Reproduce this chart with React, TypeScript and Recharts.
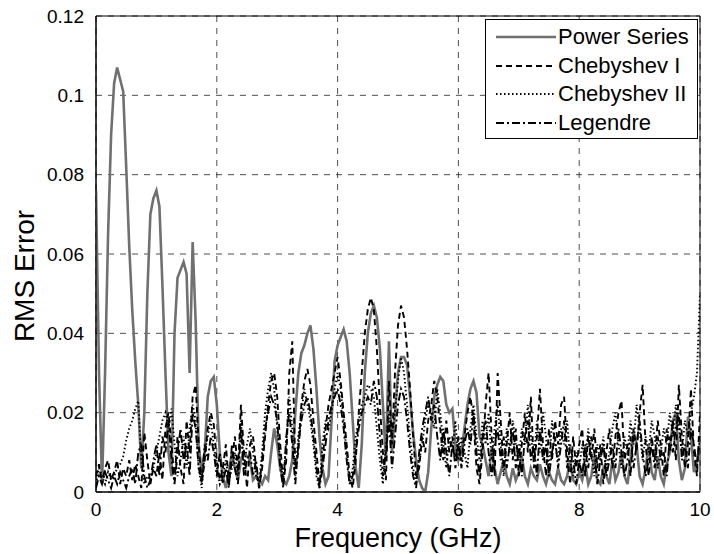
import React from "react";
import {
  LineChart,
  Line,
  XAxis,
  YAxis,
  CartesianGrid,
  ReferenceArea,
  Label,
} from "recharts";

// sample frequencies (GHz)
const FREQ_GHZ = [
  0, 0.05, 0.1, 0.15, 0.2, 0.25, 0.3, 0.35, 0.4, 0.45,
  0.5, 0.55, 0.6, 0.65, 0.7, 0.75, 0.8, 0.85, 0.9, 0.95,
  1, 1.05, 1.1, 1.15, 1.2, 1.25, 1.3, 1.35, 1.4, 1.45,
  1.5, 1.55, 1.6, 1.65, 1.7, 1.75, 1.8, 1.85, 1.9, 1.95,
  2, 2.05, 2.1, 2.15, 2.2, 2.25, 2.3, 2.35, 2.4, 2.45,
  2.5, 2.55, 2.6, 2.65, 2.7, 2.75, 2.8, 2.85, 2.9, 2.95,
  3, 3.05, 3.1, 3.15, 3.2, 3.25, 3.3, 3.35, 3.4, 3.45,
  3.5, 3.55, 3.6, 3.65, 3.7, 3.75, 3.8, 3.85, 3.9, 3.95,
  4, 4.05, 4.1, 4.15, 4.2, 4.25, 4.3, 4.35, 4.4, 4.45,
  4.5, 4.55, 4.6, 4.65, 4.7, 4.75, 4.8, 4.85, 4.9, 4.95,
  5, 5.05, 5.1, 5.15, 5.2, 5.25, 5.3, 5.35, 5.4, 5.45,
  5.5, 5.55, 5.6, 5.65, 5.7, 5.75, 5.8, 5.85, 5.9, 5.95,
  6, 6.05, 6.1, 6.15, 6.2, 6.25, 6.3, 6.35, 6.4, 6.45,
  6.5, 6.55, 6.6, 6.65, 6.7, 6.75, 6.8, 6.85, 6.9, 6.95,
  7, 7.05, 7.1, 7.15, 7.2, 7.25, 7.3, 7.35, 7.4, 7.45,
  7.5, 7.55, 7.6, 7.65, 7.7, 7.75, 7.8, 7.85, 7.9, 7.95,
  8, 8.05, 8.1, 8.15, 8.2, 8.25, 8.3, 8.35, 8.4, 8.45,
  8.5, 8.55, 8.6, 8.65, 8.7, 8.75, 8.8, 8.85, 8.9, 8.95,
  9, 9.05, 9.1, 9.15, 9.2, 9.25, 9.3, 9.35, 9.4, 9.45,
  9.5, 9.55, 9.6, 9.65, 9.7, 9.75, 9.8, 9.85, 9.9, 9.95,
  10,
];

const POWER_SERIES = [
  0.076, 0.030, 0.002, 0.030, 0.065, 0.090, 0.103, 0.107, 0.104, 0.101,
  0.082, 0.062, 0.046, 0.033, 0.022, 0.006, 0.020, 0.050, 0.070, 0.074,
  0.076, 0.072, 0.052, 0.030, 0.010, 0.004, 0.040, 0.054, 0.056, 0.058,
  0.055, 0.030, 0.063, 0.043, 0.012, 0.005, 0.010, 0.024, 0.028, 0.029,
  0.022, 0.010, 0.004, 0.001, 0.005, 0.010, 0.006, 0.003, 0.008, 0.010,
  0.009, 0.008, 0.003, 0.004, 0.003, 0.002, 0.004, 0.003, 0.010, 0.016,
  0.012, 0.006, 0.003, 0.002, 0.004, 0.008, 0.020, 0.030, 0.035, 0.037,
  0.040, 0.042, 0.036, 0.026, 0.014, 0.006, 0.002, 0.004, 0.018, 0.033,
  0.037, 0.039, 0.041, 0.038, 0.030, 0.018, 0.006, 0.001, 0.012, 0.030,
  0.040, 0.045, 0.047, 0.044, 0.036, 0.022, 0.008, 0.038, 0.010, 0.020,
  0.030, 0.034, 0.034, 0.032, 0.024, 0.015, 0.008, 0.003, 0.001, 0.000,
  0.005, 0.016, 0.024, 0.027, 0.029, 0.028, 0.022, 0.020, 0.021, 0.012,
  0.008, 0.010, 0.016, 0.022, 0.026, 0.028, 0.025, 0.014, 0.012, 0.008,
  0.004, 0.011, 0.006, 0.002, 0.005, 0.008, 0.004, 0.002, 0.006, 0.003,
  0.005, 0.009, 0.004, 0.002, 0.006, 0.004, 0.003, 0.007, 0.004, 0.002,
  0.005, 0.003, 0.002, 0.006, 0.003, 0.002, 0.004, 0.008, 0.003, 0.002,
  0.005, 0.003, 0.007, 0.002, 0.004, 0.009, 0.003, 0.002, 0.006, 0.004,
  0.002, 0.008, 0.003, 0.005, 0.010, 0.004, 0.002, 0.008, 0.015, 0.012,
  0.004, 0.002, 0.006, 0.012, 0.005, 0.003, 0.009, 0.004, 0.002, 0.007,
  0.010, 0.018, 0.020, 0.008, 0.003, 0.006, 0.019, 0.014, 0.005, 0.008,
  0.012,
];

const CHEBYSHEV_I = [
  0.004, 0.007, 0.002, 0.006, 0.008, 0.003, 0.005, 0.008, 0.002, 0.006,
  0.004, 0.008, 0.003, 0.007, 0.004, 0.001, 0.015, 0.008, 0.002, 0.006,
  0.004, 0.010, 0.003, 0.016, 0.020, 0.012, 0.003, 0.014, 0.006, 0.002,
  0.018, 0.010, 0.024, 0.027, 0.012, 0.002, 0.008, 0.016, 0.020, 0.017,
  0.008, 0.003, 0.006, 0.012, 0.002, 0.008, 0.014, 0.005, 0.022, 0.010,
  0.001, 0.012, 0.014, 0.006, 0.001, 0.006, 0.014, 0.022, 0.028, 0.030,
  0.024, 0.012, 0.002, 0.008, 0.030, 0.038, 0.006, 0.010, 0.022, 0.028,
  0.031, 0.027, 0.018, 0.010, 0.002, 0.008, 0.016, 0.022, 0.026, 0.030,
  0.034, 0.028, 0.020, 0.012, 0.004, 0.001, 0.008, 0.020, 0.030, 0.040,
  0.046, 0.049, 0.046, 0.036, 0.022, 0.010, 0.003, 0.028, 0.012, 0.030,
  0.042, 0.047, 0.044, 0.036, 0.026, 0.014, 0.004, 0.006, 0.014, 0.010,
  0.018, 0.022, 0.028, 0.024, 0.016, 0.008, 0.018, 0.010, 0.014, 0.006,
  0.012, 0.008, 0.014, 0.020, 0.024, 0.018, 0.006, 0.002, 0.010, 0.022,
  0.030, 0.014, 0.004, 0.030, 0.018, 0.006, 0.012, 0.020, 0.008, 0.016,
  0.004, 0.012, 0.020, 0.010, 0.024, 0.006, 0.014, 0.026, 0.012, 0.004,
  0.016, 0.008, 0.018, 0.012, 0.022, 0.024, 0.010, 0.002, 0.014, 0.006,
  0.012, 0.016, 0.004, 0.014, 0.008, 0.016, 0.006, 0.012, 0.002, 0.010,
  0.016, 0.006, 0.014, 0.020, 0.023, 0.008, 0.012, 0.004, 0.016, 0.010,
  0.020, 0.027, 0.012, 0.004, 0.014, 0.008, 0.018, 0.012, 0.004, 0.016,
  0.010, 0.018, 0.008, 0.027, 0.014, 0.006, 0.012, 0.026, 0.010, 0.004,
  0.020,
];

const CHEBYSHEV_II = [
  0.002, 0.006, 0.004, 0.002, 0.005, 0.003, 0.004, 0.006, 0.007, 0.009,
  0.013, 0.016, 0.018, 0.021, 0.023, 0.008, 0.002, 0.004, 0.003, 0.006,
  0.010, 0.014, 0.018, 0.020, 0.016, 0.021, 0.012, 0.004, 0.008, 0.014,
  0.006, 0.016, 0.022, 0.018, 0.006, 0.001, 0.010, 0.014, 0.018, 0.012,
  0.006, 0.002, 0.004, 0.008, 0.003, 0.006, 0.010, 0.004, 0.018, 0.006,
  0.012, 0.016, 0.010, 0.004, 0.002, 0.010, 0.020, 0.026, 0.030, 0.026,
  0.016, 0.008, 0.003, 0.012, 0.024, 0.016, 0.004, 0.014, 0.020, 0.026,
  0.022, 0.018, 0.012, 0.004, 0.001, 0.012, 0.018, 0.016, 0.020, 0.026,
  0.030, 0.026, 0.018, 0.010, 0.002, 0.006, 0.014, 0.018, 0.022, 0.024,
  0.027, 0.026, 0.024, 0.016, 0.008, 0.002, 0.012, 0.020, 0.014, 0.020,
  0.028, 0.034, 0.030, 0.022, 0.014, 0.006, 0.002, 0.008, 0.012, 0.018,
  0.022, 0.020, 0.016, 0.026, 0.020, 0.012, 0.006, 0.014, 0.010, 0.018,
  0.008, 0.014, 0.010, 0.006, 0.016, 0.022, 0.014, 0.008, 0.018, 0.012,
  0.020, 0.008, 0.016, 0.022, 0.012, 0.004, 0.016, 0.010, 0.018, 0.012,
  0.008, 0.016, 0.012, 0.022, 0.014, 0.008, 0.018, 0.010, 0.020, 0.014,
  0.006, 0.018, 0.012, 0.008, 0.016, 0.012, 0.018, 0.008, 0.004, 0.010,
  0.006, 0.012, 0.008, 0.016, 0.010, 0.004, 0.012, 0.008, 0.014, 0.006,
  0.010, 0.016, 0.020, 0.012, 0.006, 0.014, 0.010, 0.018, 0.012, 0.022,
  0.016, 0.008, 0.014, 0.010, 0.018, 0.014, 0.006, 0.010, 0.016, 0.012,
  0.020, 0.014, 0.022, 0.016, 0.010, 0.018, 0.014, 0.020, 0.024, 0.030,
  0.050,
];

const LEGENDRE = [
  0.001, 0.004, 0.002, 0.005, 0.003, 0.001, 0.004, 0.002, 0.005, 0.003,
  0.001, 0.004, 0.006, 0.002, 0.010, 0.012, 0.004, 0.001, 0.003, 0.008,
  0.012, 0.004, 0.014, 0.010, 0.018, 0.008, 0.002, 0.010, 0.016, 0.008,
  0.012, 0.004, 0.020, 0.016, 0.006, 0.003, 0.012, 0.008, 0.014, 0.010,
  0.004, 0.010, 0.002, 0.006, 0.001, 0.012, 0.006, 0.002, 0.016, 0.004,
  0.008, 0.010, 0.004, 0.008, 0.001, 0.008, 0.016, 0.020, 0.024, 0.022,
  0.018, 0.006, 0.001, 0.014, 0.020, 0.012, 0.002, 0.012, 0.018, 0.022,
  0.024, 0.020, 0.014, 0.006, 0.001, 0.006, 0.012, 0.018, 0.022, 0.024,
  0.026, 0.022, 0.016, 0.008, 0.002, 0.004, 0.010, 0.016, 0.020, 0.022,
  0.024, 0.022, 0.028, 0.024, 0.014, 0.004, 0.010, 0.018, 0.006, 0.014,
  0.022, 0.026, 0.024, 0.018, 0.010, 0.004, 0.001, 0.010, 0.016, 0.020,
  0.024, 0.018, 0.022, 0.014, 0.008, 0.016, 0.010, 0.004, 0.012, 0.008,
  0.014, 0.006, 0.012, 0.016, 0.012, 0.020, 0.010, 0.004, 0.014, 0.018,
  0.010, 0.004, 0.012, 0.016, 0.008, 0.014, 0.006, 0.012, 0.016, 0.006,
  0.012, 0.004, 0.014, 0.018, 0.008, 0.012, 0.004, 0.016, 0.008, 0.012,
  0.004, 0.010, 0.014, 0.006, 0.012, 0.018, 0.006, 0.012, 0.008, 0.002,
  0.008, 0.004, 0.012, 0.006, 0.014, 0.010, 0.002, 0.008, 0.012, 0.004,
  0.008, 0.012, 0.006, 0.016, 0.010, 0.004, 0.008, 0.014, 0.006, 0.012,
  0.018, 0.010, 0.004, 0.008, 0.012, 0.006, 0.014, 0.008, 0.010, 0.004,
  0.014, 0.010, 0.016, 0.020, 0.008, 0.012, 0.006, 0.016, 0.012, 0.006,
  0.014,
];

const X_TICKS = [0, 2, 4, 6, 8, 10];
const Y_TICKS = [0, 0.02, 0.04, 0.06, 0.08, 0.1, 0.12];

const SERIES = [
  { key: "power", name: "Power Series", color: "#707070", width: 2.6, dash: undefined },
  { key: "cheb1", name: "Chebyshev I", color: "#000", width: 1.9, dash: "6 4" },
  { key: "cheb2", name: "Chebyshev II", color: "#000", width: 1.9, dash: "1.5 2.5" },
  { key: "legendre", name: "Legendre", color: "#000", width: 1.9, dash: "8 3 2 3" },
];

const FONT = '"Liberation Sans", Arial, sans-serif';

const data = FREQ_GHZ.map((f, i) => ({
  f,
  power: POWER_SERIES[i],
  cheb1: CHEBYSHEV_I[i],
  cheb2: CHEBYSHEV_II[i],
  legendre: LEGENDRE[i],
}));

function LegendBox() {
  return (
    <div
      style={{
        position: "absolute",
        left: 485,
        top: 19,
        width: 213,
        height: 120,
        border: "1px solid #000",
        background: "#fff",
        fontFamily: FONT,
        fontSize: 22,
        paddingTop: 3,
        boxSizing: "border-box",
      }}
    >
      {SERIES.map((s) => (
        <div key={s.key} style={{ display: "flex", alignItems: "center", height: 28.5, lineHeight: "28px" }}>
          <svg width={72} height={28} style={{ flex: "none" }}>
            <line
              x1={10}
              x2={70}
              y1={14}
              y2={14}
              stroke={s.color}
              strokeWidth={s.width}
              strokeDasharray={s.dash}
            />
          </svg>
          <span style={{ whiteSpace: "nowrap" }}>{s.name}</span>
        </div>
      ))}
    </div>
  );
}

export default function App() {
  return (
    <div style={{ position: "absolute", left: 0, top: 0, width: 714, height: 554, background: "#fff" }}>
      <LineChart
        width={714}
        height={554}
        data={data}
        margin={{ top: 16, right: 14, left: 0, bottom: 0 }}
        style={{ fontFamily: FONT }}
      >
        <CartesianGrid stroke="#222" strokeDasharray="6 6" strokeWidth={0.8} />
        <XAxis
          dataKey="f"
          type="number"
          domain={[0, 10]}
          ticks={X_TICKS}
          allowDataOverflow
          height={62}
          tickLine={false}
          axisLine={{ stroke: "#000" }}
          tickMargin={5}
          tick={{ fontSize: 19, fill: "#000" }}
        >
          <Label
            content={({ viewBox }: any) => (
              <text
                x={viewBox.x + viewBox.width / 2}
                y={547}
                textAnchor="middle"
                fontSize={27}
                fill="#000"
                fontFamily={FONT}
              >
                Frequency (GHz)
              </text>
            )}
          />
        </XAxis>
        <YAxis
          type="number"
          domain={[0, 0.12]}
          ticks={Y_TICKS}
          allowDataOverflow
          width={96}
          tickLine={false}
          axisLine={{ stroke: "#000" }}
          tickMargin={6}
          tick={{ fontSize: 19, fill: "#000" }}
          tickFormatter={(v: number) => String(Number(v.toFixed(2)))}
        >
          <Label
            content={() => (
              <text
                x={34}
                y={276}
                transform="rotate(-90 34 276)"
                textAnchor="middle"
                fontSize={28}
                fill="#000"
                fontFamily={FONT}
              >
                RMS Error
              </text>
            )}
          />
        </YAxis>
        {SERIES.map((s) => (
          <Line
            key={s.key}
            type="linear"
            dataKey={s.key}
            name={s.name}
            stroke={s.color}
            strokeWidth={s.width}
            strokeDasharray={s.dash}
            dot={false}
            isAnimationActive={false}
          />
        ))}
        <ReferenceArea x1={0} x2={10} y1={0} y2={0.12} fill="none" stroke="#000" strokeWidth={1} />
      </LineChart>
      <LegendBox />
    </div>
  );
}
